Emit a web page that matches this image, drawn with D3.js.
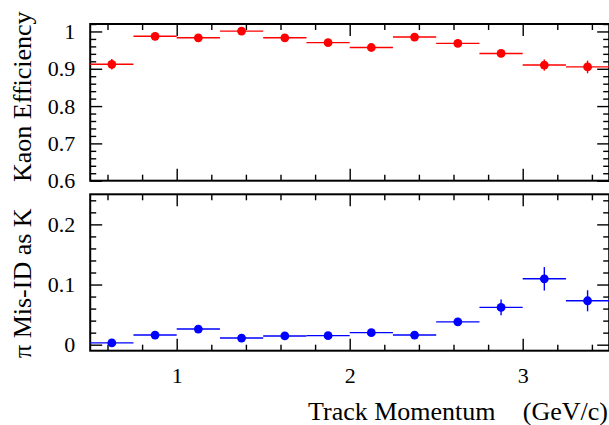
<!DOCTYPE html>
<html>
<head>
<meta charset="utf-8">
<script src="https://cdn.jsdelivr.net/npm/d3@7"></script>
<style>
  html, body { margin: 0; padding: 0; background: #fff; }
  svg { display: block; }
  text { font-family: "Liberation Serif", "Times New Roman", serif; fill: #000; }
</style>
</head>
<body>
<svg id="chart" width="609" height="425"></svg>
<script>
// ---- data ----
const binCenters = [0.625, 0.875, 1.125, 1.375, 1.625, 1.875, 2.125, 2.375, 2.625, 2.875, 3.125, 3.375];
const binHalfWidth = 0.125;
const kaonEff    = [0.912, 0.987, 0.983, 1.001, 0.983, 0.970, 0.957, 0.985, 0.968, 0.941, 0.910, 0.905];
const kaonEffErr = [0.014, 0.006, 0.006, 0.005, 0.006, 0.006, 0.006, 0.006, 0.007, 0.010, 0.015, 0.017];
const misId      = [0.003, 0.016, 0.026, 0.011, 0.0145, 0.015, 0.020, 0.016, 0.038, 0.062, 0.1095, 0.073];
const misIdErr   = [0.003, 0.004, 0.004, 0.003, 0.003, 0.003, 0.004, 0.004, 0.006, 0.013, 0.0195, 0.0175];
const xTicks = [1, 2, 3];
const xTickLabels = ["1", "2", "3"];
const effTicks = [0.6, 0.7, 0.8, 0.9, 1];
const effTickLabels = ["0.6", "0.7", "0.8", "0.9", "1"];
const misTicks = [0, 0.1, 0.2];
const misTickLabels = ["0", "0.1", "0.2"];
const xTitle1 = "Track Momentum";
const xTitle2 = "(GeV/c)";
const effTitle = "Kaon Efficiency";
const misTitle = "\u03c0 Mis-ID as K";

// ---- layout ----
const svg = d3.select("#chart");
const x = d3.scaleLinear().domain([0.5, 3.5]).range([90.2, 609.2]);
const yTop = d3.scaleLinear().domain([0.6, 1.02]).range([180.7, 24]);
const yBot = d3.scaleLinear().domain([-0.01, 0.25]).range([350.7, 194.3]);

const xMinor = d3.range(0.6, 3.5, 0.2).map(v => +v.toFixed(2)).filter(v => Math.abs(v - Math.round(v)) > 1e-6);

function panel(y, ticks, labels, minorStep, values, errs, color, showX) {
  const [y0, y1] = y.domain();
  const top = y.range()[1], bot = y.range()[0];
  const left = x.range()[0], right = x.range()[1];
  const g = svg.append("g");
  const yMinor = d3.range(Math.ceil(y0 / minorStep) * minorStep, y1 + 1e-9, minorStep)
    .map(v => +v.toFixed(4)).filter(v => !ticks.some(t => Math.abs(t - v) < 1e-6));

  function addAxis(axis, tx, ty) {
    const a = g.append("g").attr("transform", `translate(${tx},${ty})`).call(axis);
    a.select(".domain").remove();
    a.selectAll(".tick line").attr("stroke", "#000").attr("stroke-width", 1.4);
    a.selectAll("text").style("font-size", "22px").style("font-family", "Liberation Serif, serif").attr("fill", "#000");
    return a;
  }
  // left axis
  addAxis(d3.axisLeft(y).tickValues(ticks).tickSize(-12).tickPadding(15)
    .tickFormat((d, i) => labels[i]), left, 0);
  addAxis(d3.axisLeft(y).tickValues(yMinor).tickSize(-6).tickFormat(""), left, 0);
  // right axis
  addAxis(d3.axisRight(y).tickValues(ticks).tickSize(-12).tickFormat(""), right, 0);
  addAxis(d3.axisRight(y).tickValues(yMinor).tickSize(-6).tickFormat(""), right, 0);
  // bottom axis
  addAxis(d3.axisBottom(x).tickValues(xTicks).tickSize(-12).tickPadding(17)
    .tickFormat((d, i) => showX ? xTickLabels[i] : ""), 0, bot);
  addAxis(d3.axisBottom(x).tickValues(xMinor).tickSize(-6).tickFormat(""), 0, bot);
  // top axis
  addAxis(d3.axisTop(x).tickValues(xTicks).tickSize(-12).tickFormat(""), 0, top);
  addAxis(d3.axisTop(x).tickValues(xMinor).tickSize(-6).tickFormat(""), 0, top);

  // frame
  g.append("rect").attr("x", left).attr("y", top)
    .attr("width", right - left).attr("height", bot - top)
    .attr("fill", "none").attr("stroke", "#000").attr("stroke-width", 2);

  // data
  const d = binCenters.map((c, i) => ({ c, v: values[i], e: errs[i] }));
  const pts = g.append("g");
  pts.selectAll("line.h").data(d).join("line").attr("class", "h")
    .attr("x1", p => x(p.c - binHalfWidth)).attr("x2", p => x(p.c + binHalfWidth))
    .attr("y1", p => y(p.v)).attr("y2", p => y(p.v))
    .attr("stroke", color).attr("stroke-width", 1.4);
  pts.selectAll("line.v").data(d).join("line").attr("class", "v")
    .attr("x1", p => x(p.c)).attr("x2", p => x(p.c))
    .attr("y1", p => y(p.v - p.e)).attr("y2", p => y(p.v + p.e))
    .attr("stroke", color).attr("stroke-width", 1.4);
  pts.selectAll("circle").data(d).join("circle")
    .attr("cx", p => x(p.c)).attr("cy", p => y(p.v)).attr("r", 4.4)
    .attr("fill", color);
}

panel(yTop, effTicks, effTickLabels, 0.02, kaonEff, kaonEffErr, "#ff0000", false);
panel(yBot, misTicks, misTickLabels, 0.02, misId, misIdErr, "#0000ff", true);

// titles
svg.append("text").attr("transform", "translate(31,182) rotate(-90)")
  .style("font-size", "26px").text(effTitle);
svg.append("text").attr("transform", "translate(31,358) rotate(-90)")
  .style("font-size", "26px").text(misTitle);
svg.append("text").attr("x", 308).attr("y", 420)
  .style("font-size", "26px").text(xTitle1);
svg.append("text").attr("x", 608).attr("y", 420).attr("text-anchor", "end")
  .style("font-size", "26px").text(xTitle2);
</script>
</body>
</html>
